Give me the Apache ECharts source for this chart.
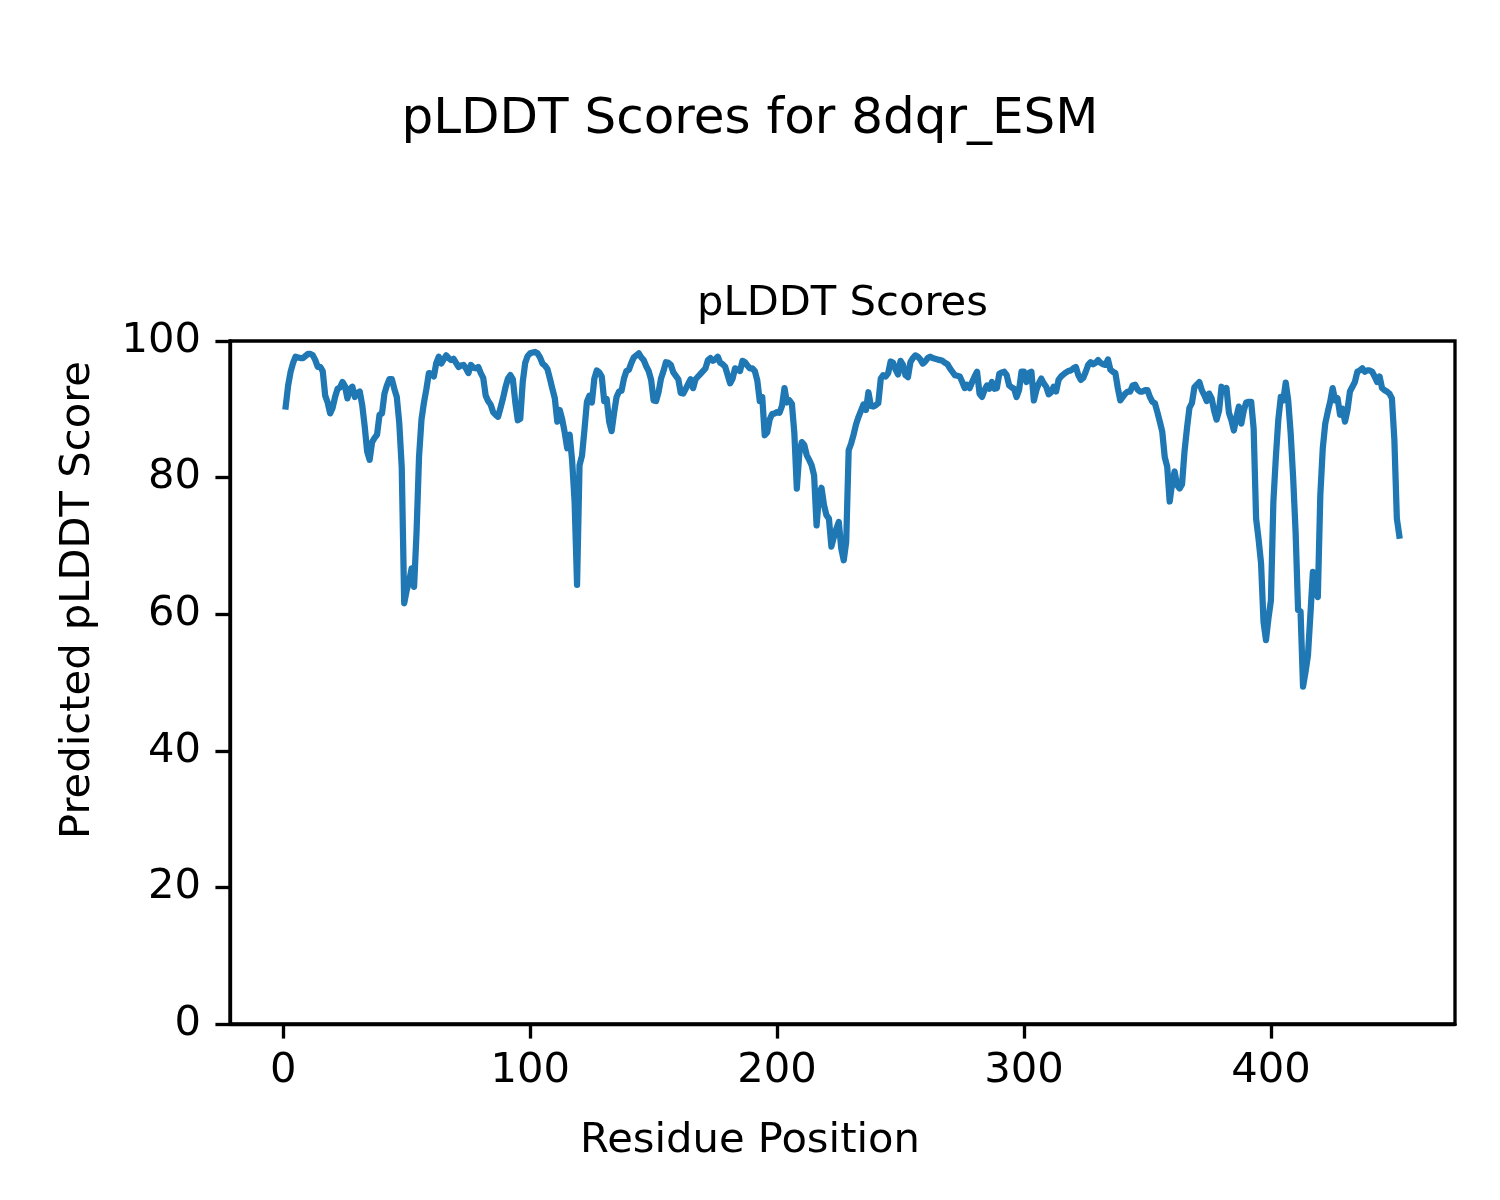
<!DOCTYPE html>
<html>
<head>
<meta charset="utf-8">
<script src="https://cdn.jsdelivr.net/npm/echarts@6/dist/echarts.min.js"></script>
<style>
html,body{margin:0;padding:0;background:#fff;}
#chart{width:1500px;height:1200px;}
</style>
</head>
<body>
<div id="chart"></div>
<script>
// pLDDT per residue (residues 1..452)
const plddt = [
90.4,93.5,95.5,96.8,97.7,97.6,97.5,97.5,97.8,98.1,
98.1,97.9,97.2,96.2,96.2,95.6,92.0,91.0,89.4,90.2,
91.8,93.0,93.2,94.0,93.4,91.6,93.0,93.3,91.8,92.4,
92.6,90.6,87.5,83.8,82.6,85.2,85.8,86.3,89.2,89.4,
92.3,93.5,94.4,94.4,93.0,91.8,88.0,81.5,61.6,63.5,
64.8,66.7,64.0,72.0,83.0,88.5,91.0,93.0,95.3,95.2,
94.8,96.8,97.7,96.7,97.3,97.9,97.5,97.2,97.4,96.8,
96.2,96.4,96.5,96.0,95.3,96.5,96.1,96.0,96.2,95.3,
94.6,92.0,91.2,90.7,89.6,89.2,88.9,90.2,91.6,93.2,
94.5,95.0,94.4,91.0,88.4,88.6,94.0,96.8,97.8,98.2,
98.3,98.4,98.2,97.6,96.7,96.4,95.9,94.5,93.0,91.6,
88.2,89.9,88.5,86.6,84.3,86.3,82.5,76.5,64.3,81.8,
83.2,87.0,91.1,92.0,91.0,94.5,95.7,95.4,94.8,91.2,
91.5,88.2,86.8,89.5,91.8,92.6,92.7,94.5,95.6,95.8,
96.8,97.6,97.9,98.2,97.6,97.2,96.3,95.6,94.3,91.3,
91.2,92.5,94.5,95.6,96.9,96.8,96.5,95.4,94.9,94.4,
92.4,92.3,93.0,93.7,94.4,93.1,94.4,94.8,95.2,95.6,
96.0,97.2,97.5,97.1,97.3,97.7,96.8,96.6,96.2,95.0,
93.8,94.5,96.0,95.8,95.6,97.1,96.9,96.4,96.0,96.0,
95.6,94.2,91.2,91.8,86.2,86.6,88.5,89.3,89.4,89.6,
89.5,90.5,93.1,91.0,91.3,90.8,86.5,78.4,83.5,85.2,
84.8,83.3,82.6,81.8,80.3,73.0,77.5,78.5,76.0,74.5,
74.0,69.9,71.3,72.5,73.5,69.6,67.9,70.6,84.0,85.0,
86.3,87.8,88.9,89.8,90.7,89.9,92.5,90.5,90.4,90.6,
90.9,94.5,95.0,94.8,95.3,97.0,96.8,95.8,95.1,97.1,
96.5,95.0,94.7,96.9,97.5,97.9,97.7,97.3,96.7,97.0,
97.5,97.7,97.5,97.4,97.3,97.2,97.1,96.8,96.6,96.0,
95.5,95.0,94.9,94.8,94.0,93.1,93.6,93.1,94.0,94.8,
95.5,92.3,91.8,92.8,93.5,93.0,94.0,93.0,93.1,95.2,
95.4,95.5,95.0,93.5,93.2,93.0,91.8,92.8,95.5,95.5,
94.0,95.3,95.5,91.3,92.8,93.8,94.5,93.8,93.3,92.2,
92.5,93.3,92.6,94.3,94.8,95.1,95.4,95.6,95.7,96.0,
96.2,95.0,94.3,94.6,95.5,96.5,96.9,96.6,96.8,97.2,
96.8,96.6,96.5,97.3,95.8,95.5,95.3,93.1,91.3,91.8,
92.3,92.6,92.6,93.5,93.6,92.9,92.6,92.6,92.8,92.8,
91.8,91.1,90.9,89.6,88.2,86.7,83.0,81.6,76.5,79.2,
80.9,78.9,78.4,79.0,83.8,87.2,90.2,90.9,93.2,93.6,
94.0,92.8,92.1,91.2,92.3,91.6,89.8,88.5,89.8,93.3,
92.6,93.1,89.5,88.4,86.9,88.8,90.4,87.9,89.8,91.0,
91.1,91.1,87.2,74.0,71.0,67.5,58.9,56.2,59.4,62.0,
76.5,83.0,88.5,91.8,91.3,93.9,91.3,86.5,80.0,72.0,
60.6,60.4,49.4,51.5,54.0,60.0,66.2,63.5,62.5,77.4,
84.3,87.9,89.6,91.1,93.1,91.3,91.6,89.2,90.1,88.2,
89.9,92.6,93.3,94.0,95.5,95.7,96.0,95.5,95.7,95.7,
95.5,94.8,94.0,94.8,93.1,92.8,92.6,92.3,91.6,85.5,
74.0,71.5
];
const firstResidue = 1;
const xTicks = [0, 100, 200, 300, 400];
const yTicks = [0, 20, 40, 60, 80, 100];
const figTitle = 'pLDDT Scores for 8dqr_ESM';
const axTitle = 'pLDDT Scores';
const xLabel = 'Residue Position';
const yLabel = 'Predicted pLDDT Score';

const FONT = 'DejaVu Sans';
const PT = 300 / 72;
const seriesData = plddt.map((v, i) => [i + firstResidue, v]);
const lo = firstResidue, hi = firstResidue + plddt.length - 1;
const span = hi - lo;
const xMin = lo - 0.05 * span, xMax = hi + 0.05 * span;

const chart = echarts.init(document.getElementById('chart'), null, {renderer: 'canvas'});
chart.setOption({
  backgroundColor: '#ffffff',
  animation: false,
  grid: {
    left: 230, right: 45, top: 341, bottom: 176,
    show: true, borderColor: '#000', borderWidth: 0.8 * PT, backgroundColor: 'transparent'
  },
  xAxis: {
    type: 'value', min: xMin, max: xMax,
    splitLine: {show: false},
    axisLine: {show: true, onZero: false, lineStyle: {color: '#000', width: 0.8 * PT}},
    axisTick: {show: true, inside: false, length: 3.5 * PT, customValues: xTicks, lineStyle: {color: '#000', width: 0.8 * PT}},
    axisLabel: {show: true, customValues: xTicks, margin: 26, color: '#000', fontFamily: FONT, fontSize: 10 * PT}
  },
  yAxis: {
    type: 'value', min: 0, max: 100, interval: 20,
    splitLine: {show: false},
    axisLine: {show: true, onZero: false, lineStyle: {color: '#000', width: 0.8 * PT}},
    axisTick: {show: true, inside: false, length: 3.5 * PT, lineStyle: {color: '#000', width: 0.8 * PT}},
    axisLabel: {show: true, margin: 29, color: '#000', fontFamily: FONT, fontSize: 10 * PT,
      formatter: v => yTicks.includes(v) ? String(v) : ''}
  },
  series: [{
    type: 'line',
    data: seriesData,
    showSymbol: false,
    symbol: 'none',
    sampling: null,
    lineStyle: {color: '#1f77b4', width: 1.5 * PT, join: 'round', cap: 'square'},
    emphasis: {disabled: true}
  }],
  graphic: [
    {type: 'text', x: 750, y: 120.5, style: {text: figTitle, fill: '#000', font: (12 * PT) + 'px "' + FONT + '"', textAlign: 'center', textVerticalAlign: 'middle'}},
    {type: 'text', x: 842.5, y: 304, style: {text: axTitle, fill: '#000', font: (10 * PT) + 'px "' + FONT + '"', textAlign: 'center', textVerticalAlign: 'middle'}},
    {type: 'text', x: 750, y: 1141, style: {text: xLabel, fill: '#000', font: (10 * PT) + 'px "' + FONT + '"', textAlign: 'center', textVerticalAlign: 'middle'}},
    {type: 'text', x: 78.5, y: 600, rotation: Math.PI / 2, style: {text: yLabel, fill: '#000', font: (10 * PT) + 'px "' + FONT + '"', textAlign: 'center', textVerticalAlign: 'middle'}}
  ]
});
</script>
</body>
</html>
